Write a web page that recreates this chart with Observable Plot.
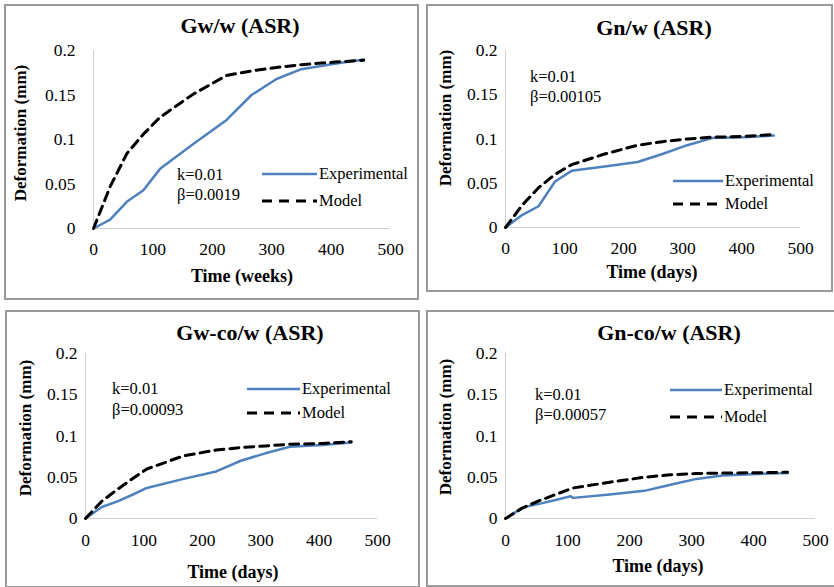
<!DOCTYPE html>
<html><head><meta charset="utf-8">
<script src="https://cdn.jsdelivr.net/npm/d3@7"></script>
<script src="https://cdn.jsdelivr.net/npm/@observablehq/plot@0.6"></script>
<style>
body{margin:0;background:#fff;}
#root{position:relative;width:834px;height:587px;overflow:hidden;color:#000;font-family:"Liberation Serif","Times New Roman",serif;}
.panel{position:absolute;box-sizing:border-box;border:2px solid #9a9a9a;}
.layer{position:absolute;left:0;top:0;}
.t{position:absolute;white-space:nowrap;line-height:1;}
.title{font-weight:bold;font-size:22px;transform:translate(-50%,-50%);}
.xlab{font-weight:bold;font-size:18px;transform:translate(-50%,-50%);}
.ylab{font-weight:bold;font-size:17px;transform:translate(-50%,-50%) rotate(-90deg);}
.ann{font-size:16.5px;transform:translate(0,-50%);}
.sw{position:absolute;transform:translate(0,-50%);}
</style>
</head><body><div id="root"></div>
<script>
// ---- data ----
const xTicks = [0, 100, 200, 300, 400, 500];
const yTicks = [0, 0.05, 0.1, 0.15, 0.2];
const seriesNames = ["Experimental", "Model"];

const gwTitle = "Gw/w (ASR)";
const gwTime = [0, 28, 56, 84, 112, 168, 224, 266, 308, 350, 406, 455];
const gwExp = [0, 0.010, 0.030, 0.043, 0.067, 0.095, 0.122, 0.150, 0.168, 0.179, 0.185, 0.190];
const gwModel = [0, 0.047, 0.084, 0.106, 0.125, 0.151, 0.172, 0.177, 0.181, 0.184, 0.187, 0.189];
const gwParams = ["k=0.01", "β=0.0019"];

const gnTitle = "Gn/w (ASR)";
const gnTime = [0, 28, 56, 84, 112, 168, 224, 266, 308, 350, 406, 455];
const gnExp = [0, 0.014, 0.024, 0.052, 0.064, 0.069, 0.074, 0.083, 0.093, 0.101, 0.102, 0.104];
const gnModel = [0, 0.025, 0.045, 0.060, 0.071, 0.083, 0.093, 0.097, 0.100, 0.102, 0.103, 0.105];
const gnParams = ["k=0.01", "β=0.00105"];

const gwcoTitle = "Gw-co/w (ASR)";
const gwcoTime = [0, 28, 56, 84, 105, 168, 224, 266, 308, 350, 406, 455];
const gwcoExp = [0, 0.014, 0.021, 0.030, 0.037, 0.048, 0.057, 0.070, 0.079, 0.087, 0.089, 0.092];
const gwcoModel = [0, 0.021, 0.036, 0.050, 0.060, 0.076, 0.083, 0.086, 0.088, 0.090, 0.091, 0.093];
const gwcoParams = ["k=0.01", "β=0.00093"];

const gncoTitle = "Gn-co/w (ASR)";
const gncoTime = [0, 28, 56, 84, 105, 109, 168, 224, 266, 308, 350, 406, 455];
const gncoExp = [0, 0.0135, 0.018, 0.023, 0.027, 0.025, 0.029, 0.0335, 0.041, 0.048, 0.052, 0.054, 0.055];
const gncoModel = [0, 0.013, 0.022, 0.030, 0.036, 0.037, 0.044, 0.050, 0.053, 0.0545, 0.055, 0.0555, 0.056];
const gncoParams = ["k=0.01", "β=0.00057"];

// ---- layout ----
const W = 834, H = 587;
const FONT = "'Liberation Serif', 'Times New Roman', serif";
const panels = [
  {title: gwTitle, time: gwTime, exp: gwExp, model: gwModel, params: gwParams, xLabel: "Time (weeks)",
   box: [4, 4, 419, 300], x0: 93, x1: 390, y0: 228, yTop: 50, padX: 14, padY: 18,
   titleAt: [240, 26], xLabAt: [242, 276], yLabAt: [20, 133], annAt: [177, 175, 195], legAt: [262, 317, 174, 201]},
  {title: gnTitle, time: gnTime, exp: gnExp, model: gnModel, params: gnParams, xLabel: "Time (days)",
   box: [426, 4, 833, 292], x0: 505, x1: 800, y0: 227, yTop: 50, padX: 14, padY: 8,
   titleAt: [654, 28], xLabAt: [652, 272], yLabAt: [445, 118], annAt: [530, 77, 97], legAt: [673, 723, 181, 204]},
  {title: gwcoTitle, time: gwcoTime, exp: gwcoExp, model: gwcoModel, params: gwcoParams, xLabel: "Time (days)",
   box: [5, 310, 420, 588], x0: 85, x1: 377, y0: 518, yTop: 353, padX: 15, padY: 8,
   titleAt: [250, 333], xLabAt: [233, 572], yLabAt: [25, 428], annAt: [112, 389, 410], legAt: [247, 300, 389, 413]},
  {title: gncoTitle, time: gncoTime, exp: gncoExp, model: gncoModel, params: gncoParams, xLabel: "Time (days)",
   box: [426, 310, 838, 587], x0: 505, x1: 815, y0: 518, yTop: 353, padX: 15, padY: 8,
   titleAt: [669, 333], xLabAt: [658, 566], yLabAt: [445, 427], annAt: [535, 395, 415], legAt: [670, 722, 390, 417]}
];

const root = document.getElementById("root");
const BLUE = "#4f81bd";

function addText(cls, txt, x, y) {
  const d = document.createElement("div");
  d.className = "t " + cls;
  d.textContent = txt;
  d.style.left = x + "px";
  d.style.top = y + "px";
  d.style.fontFamily = FONT;
  root.appendChild(d);
}

for (const p of panels) {
  const b = document.createElement("div");
  b.className = "panel";
  b.style.left = p.box[0] + "px"; b.style.top = p.box[1] + "px";
  b.style.width = (p.box[2] - p.box[0]) + "px"; b.style.height = (p.box[3] - p.box[1]) + "px";
  root.appendChild(b);
}

for (const p of panels) {
  const expRows = p.time.map((t, i) => ({t, v: p.exp[i]}));
  const modelRows = p.time.map((t, i) => ({t, v: p.model[i]}));
  const chart = Plot.plot({
    width: W, height: H,
    marginLeft: p.x0, marginRight: W - p.x1, marginTop: p.yTop, marginBottom: H - p.y0,
    x: {domain: [0, 500]},
    y: {domain: [0, 0.2]},
    style: "background: transparent; font-family: " + FONT + "; font-size: 17.5px; color: #000; overflow: visible;",
    marks: [
      Plot.ruleY([0], {stroke: "#cfcfcf", strokeWidth: 1}),
      Plot.ruleX([0], {stroke: "#cfcfcf", strokeWidth: 1}),
      Plot.axisX(xTicks, {tickSize: 0, tickPadding: p.padX, label: null, fontSize: 17.5, tickFormat: d => String(d)}),
      Plot.axisY(yTicks, {tickSize: 0, tickPadding: p.padY, label: null, fontSize: 17.5, tickFormat: d => String(d)}),
      Plot.line(expRows, {x: "t", y: "v", stroke: BLUE, strokeWidth: 2.5}),
      Plot.line(modelRows, {x: "t", y: "v", stroke: "#000", strokeWidth: 3, strokeDasharray: "9,6"})
    ]
  });
  chart.classList.add("layer");
  chart.style.fontFamily = FONT;
  root.appendChild(chart);

  addText("title", p.title, p.titleAt[0], p.titleAt[1]);
  addText("xlab", p.xLabel, p.xLabAt[0], p.xLabAt[1]);
  addText("ylab", "Deformation (mm)", p.yLabAt[0], p.yLabAt[1]);
  addText("ann", p.params[0], p.annAt[0], p.annAt[1]);
  addText("ann", p.params[1], p.annAt[0], p.annAt[2]);

  const [lx0, lx1, ly1, ly2] = p.legAt;
  const len = lx1 - lx0;
  const mk = (y, dashed) => {
    const s = document.createElementNS("http://www.w3.org/2000/svg", "svg");
    s.setAttribute("width", len); s.setAttribute("height", 6);
    s.setAttribute("class", "sw");
    s.style.left = lx0 + "px"; s.style.top = y + "px";
    const l = document.createElementNS("http://www.w3.org/2000/svg", "line");
    l.setAttribute("x1", 0); l.setAttribute("x2", len); l.setAttribute("y1", 3); l.setAttribute("y2", 3);
    l.setAttribute("stroke", dashed ? "#000" : BLUE);
    l.setAttribute("stroke-width", dashed ? 3 : 2.5);
    if (dashed) l.setAttribute("stroke-dasharray", "10,7");
    s.appendChild(l);
    root.appendChild(s);
  };
  mk(ly1, false);
  mk(ly2, true);
  addText("ann", seriesNames[0], lx1 + 2, ly1);
  addText("ann", seriesNames[1], lx1 + 2, ly2);
}
</script>
</body></html>
